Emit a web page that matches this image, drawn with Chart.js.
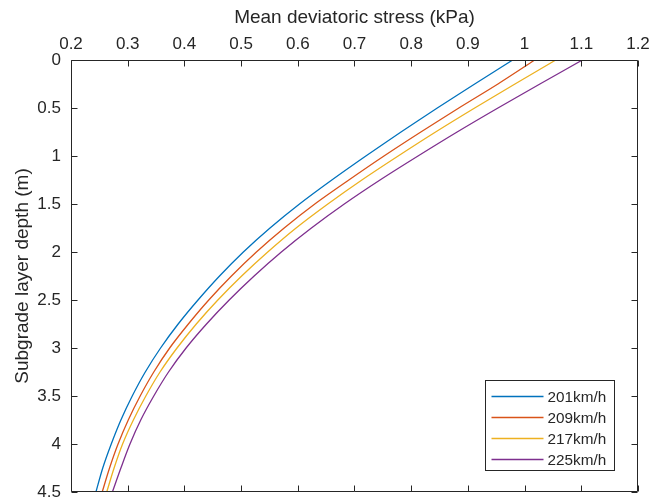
<!DOCTYPE html>
<html><head><meta charset="utf-8">
<script src="https://cdn.jsdelivr.net/npm/chart.js@4/dist/chart.umd.min.js"></script>
<style>html,body{margin:0;padding:0;background:#fff}canvas{display:block}</style>
</head><body>
<canvas id="c" width="667" height="502"></canvas>
<script>
// Depth below subgrade surface (m)
const depths = [0, 0.25, 0.5, 0.75, 1.0, 1.25, 1.5, 1.75, 2.0, 2.25, 2.5, 2.75, 3.0, 3.25, 3.5, 3.75, 4.0, 4.25, 4.5];
const speedLabels = ['201km/h', '209km/h', '217km/h', '225km/h'];
// Mean deviatoric stress (kPa) at each depth
const stress201 = [0.979, 0.912, 0.846, 0.782, 0.720, 0.660, 0.603, 0.551, 0.504, 0.462, 0.424, 0.389, 0.358, 0.331, 0.308, 0.288, 0.271, 0.256, 0.244];
const stress209 = [1.018, 0.953, 0.884, 0.817, 0.752, 0.690, 0.630, 0.576, 0.527, 0.483, 0.443, 0.407, 0.374, 0.346, 0.322, 0.301, 0.283, 0.268, 0.255];
const stress217 = [1.055, 0.983, 0.912, 0.843, 0.777, 0.713, 0.653, 0.597, 0.547, 0.501, 0.459, 0.421, 0.387, 0.357, 0.332, 0.310, 0.291, 0.276, 0.263];
const stress225 = [1.102, 1.027, 0.953, 0.881, 0.812, 0.745, 0.682, 0.624, 0.571, 0.523, 0.479, 0.439, 0.403, 0.372, 0.346, 0.323, 0.304, 0.288, 0.273];
const seriesColors = ['#0072BD', '#D95319', '#EDB120', '#7E2F8E'];

const allSeries = [stress201, stress209, stress217, stress225];
const FONT = '"Liberation Sans", Arial, Helvetica, sans-serif';
const INK = '#262626';

const datasets = allSeries.map((vals, i) => ({
  label: speedLabels[i],
  data: vals.map((v, k) => ({x: v, y: depths[k]})),
  borderColor: seriesColors[i],
  backgroundColor: seriesColors[i],
  borderWidth: 1.3,
  pointRadius: 0,
  showLine: true,
  tension: 0.3,
  fill: false
}));

const framePlugin = {
  id: 'frame',
  afterDatasetsDraw(chart) {
    const {ctx, chartArea: a, scales: {x, y}} = chart;
    ctx.save();
    ctx.strokeStyle = INK;
    ctx.lineWidth = 1;
    const L = Math.round(a.left) + 0.5, R = Math.round(a.right) - 0.5;
    const T = Math.round(a.top) + 0.5, B = Math.round(a.bottom) - 0.5;
    ctx.beginPath();
    ctx.rect(L, T, R - L, B - T);
    x.ticks.forEach(t => {
      const px = Math.round(x.getPixelForValue(t.value)) + 0.5;
      ctx.moveTo(px, T); ctx.lineTo(px, T + 6);
      ctx.moveTo(px, B); ctx.lineTo(px, B - 6);
    });
    y.ticks.forEach(t => {
      const py = Math.round(y.getPixelForValue(t.value)) + 0.5;
      ctx.moveTo(L, py); ctx.lineTo(L + 6, py);
      ctx.moveTo(R, py); ctx.lineTo(R - 6, py);
    });
    ctx.stroke();

    // legend box
    const bw = 129, bh = 90;
    const bx = Math.round(a.right) - 153 + 0.5, by = Math.round(a.bottom) - 112 + 0.5;
    ctx.fillStyle = '#fff';
    ctx.fillRect(bx, by, bw, bh);
    ctx.strokeStyle = INK;
    ctx.strokeRect(bx, by, bw, bh);
    ctx.font = '15.3px ' + FONT;
    ctx.textBaseline = 'middle';
    ctx.textAlign = 'left';
    chart.data.datasets.forEach((ds, i) => {
      const ry = Math.round(by + 15 + i * 21.2) + 0.5;
      ctx.strokeStyle = ds.borderColor;
      ctx.lineWidth = 1.3;
      ctx.beginPath();
      ctx.moveTo(bx + 6, ry); ctx.lineTo(bx + 58, ry);
      ctx.stroke();
      ctx.fillStyle = INK;
      ctx.fillText(ds.label, bx + 62, ry + 1);
    });
    ctx.restore();
  }
};

new Chart(document.getElementById('c'), {
  type: 'scatter',
  data: {datasets},
  options: {
    responsive: false,
    animation: false,
    layout: {padding: {left: 0, right: 29, top: 0, bottom: 10}},
    plugins: {legend: {display: false}, tooltip: {enabled: false}},
    scales: {
      x: {
        type: 'linear',
        position: 'top',
        min: 0.2, max: 1.2,
        afterFit: s => { s.height = 60; s.paddingLeft = 0; s.paddingRight = 0; },
        border: {display: false},
        grid: {display: false, drawTicks: false},
        ticks: {
          stepSize: 0.1,
          padding: 5,
          color: INK,
          font: {family: FONT, size: 17},
          maxRotation: 0,
          autoSkip: false,
          callback: v => String(Number(v.toFixed(1)))
        },
        title: {
          display: true,
          text: 'Mean deviatoric stress (kPa)',
          color: INK,
          font: {family: FONT, size: 19},
          padding: {top: 6, bottom: 0}
        }
      },
      y: {
        type: 'linear',
        position: 'left',
        reverse: true,
        min: 0, max: 4.5,
        afterFit: s => { s.width = 71; s.paddingTop = 0; s.paddingBottom = 0; },
        border: {display: false},
        grid: {display: false, drawTicks: false},
        ticks: {
          stepSize: 0.5,
          padding: 10,
          color: INK,
          font: {family: FONT, size: 17},
          autoSkip: false,
          callback: v => String(Number(v.toFixed(1)))
        },
        title: {
          display: true,
          text: 'Subgrade layer depth (m)',
          color: INK,
          font: {family: FONT, size: 19},
          padding: {top: 11, bottom: 0}
        }
      }
    }
  },
  plugins: [framePlugin]
});
</script>
</body></html>
